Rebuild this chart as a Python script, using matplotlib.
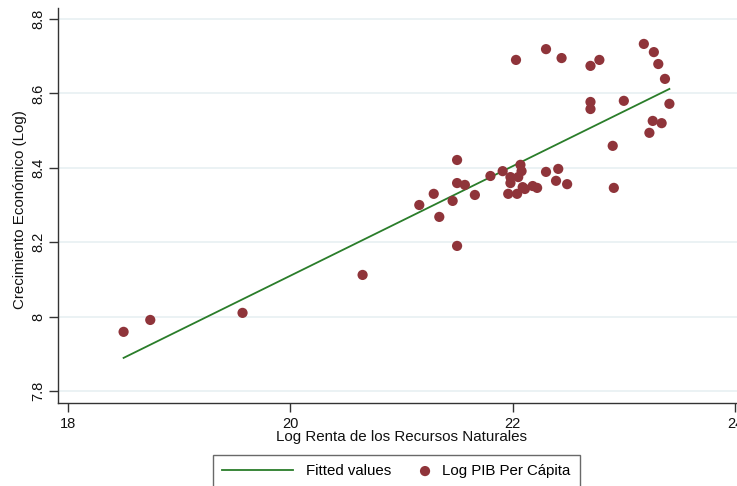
import matplotlib
matplotlib.use("Agg")
import matplotlib.pyplot as plt
from matplotlib.legend_handler import HandlerPathCollection

plt.rcParams['font.family'] = ['Liberation Sans', 'DejaVu Sans']

# datos
renta = [18.50, 18.74, 19.57, 20.65, 21.16, 21.29, 21.34, 21.46, 21.50, 21.50,
         21.50, 21.57, 21.66, 21.80, 21.91, 21.96, 21.98, 21.98, 22.04, 22.05,
         22.07, 22.08, 22.09, 22.11, 22.18, 22.22, 22.30, 22.39, 22.41, 22.49,
         22.03, 22.30, 22.44, 22.70, 22.78, 22.70, 22.70, 23.00, 22.90, 22.91,
         23.18, 23.27, 23.31, 23.37, 23.41, 23.26, 23.34, 23.23]
pib = [7.959, 7.991, 8.010, 8.112, 8.300, 8.330, 8.268, 8.311, 8.421, 8.359,
       8.190, 8.354, 8.327, 8.378, 8.391, 8.330, 8.375, 8.359, 8.330, 8.375,
       8.408, 8.391, 8.348, 8.343, 8.351, 8.346, 8.389, 8.365, 8.397, 8.356,
       8.690, 8.719, 8.695, 8.674, 8.690, 8.577, 8.558, 8.580, 8.459, 8.346,
       8.733, 8.711, 8.679, 8.639, 8.572, 8.526, 8.520, 8.494]

# recta ajustada (extremos leidos)
fit_x = [18.50, 23.41]
fit_y = [7.889, 8.612]

yticks = [7.8, 8.0, 8.2, 8.4, 8.6, 8.8]
ytick_labels = ["7.8", "8", "8.2", "8.4", "8.6", "8.8"]
xticks = [18, 20, 22, 24]


# el punto de la leyenda va pegado al texto (como en stata)
class PuntoDerecha(HandlerPathCollection):
    def get_xdata(self, legend, xdescent, ydescent, width, height, fontsize):
        x = [-xdescent + width - 3]
        return x, x


fig = plt.figure(figsize=(7.37, 4.86), dpi=100)
ax = fig.add_axes([58/737, 83/486, 1 - 58/737, 395/486])

ax.plot(fit_x, fit_y, color='#2a7d2a', lw=1.3, label='Fitted values', zorder=2)
sc = ax.scatter(renta, pib, s=54, color='#8f343a', edgecolors='none',
                label='Log PIB Per Cápita', zorder=3)

ax.set_xlim(18 - 10/111.1, 24 + 2/111.1)
ax.set_ylim(7.8 - 12/372, 8.8 + 11/372)
ax.set_yticks(yticks)
ax.set_yticklabels(ytick_labels, rotation=90, va='center')
ax.set_xticks(xticks)
ax.tick_params(labelsize=10.5, length=6.5, width=1, color='#333333', labelcolor='#111111')
ax.tick_params(axis='y', pad=2.5)
ax.grid(axis='y', color='#e8f0f2', lw=1.2)
ax.set_axisbelow(True)
for s in ['top', 'right']:
    ax.spines[s].set_visible(False)
for s in ['left', 'bottom']:
    ax.spines[s].set_color('#333333')
    ax.spines[s].set_linewidth(1)

ax.set_xlabel('Log Renta de los Recursos Naturales', fontsize=10.9, color='#111111')
ax.set_ylabel('Crecimiento Económico (Log)', fontsize=10.9, color='#111111')
ax.xaxis.set_label_coords((402 - 58)/679, -(437 - 403)/395, transform=ax.transAxes)
ax.xaxis.label.set_va('center')
ax.yaxis.set_label_coords(-(58 - 20)/679, (403 - 210)/395, transform=ax.transAxes)
ax.yaxis.label.set_va('center')

leg = fig.legend(loc='upper left', bbox_to_anchor=(213/737, 1 - 455/486), ncol=2,
                 fontsize=10.8, frameon=True, fancybox=False, edgecolor='#444444',
                 borderaxespad=0, borderpad=0.6, handlelength=4.73,
                 handletextpad=0.87, columnspacing=-2.2,
                 handler_map={sc: PuntoDerecha()})
leg.get_frame().set_linewidth(1)

plt.savefig('out.png', dpi=100)
